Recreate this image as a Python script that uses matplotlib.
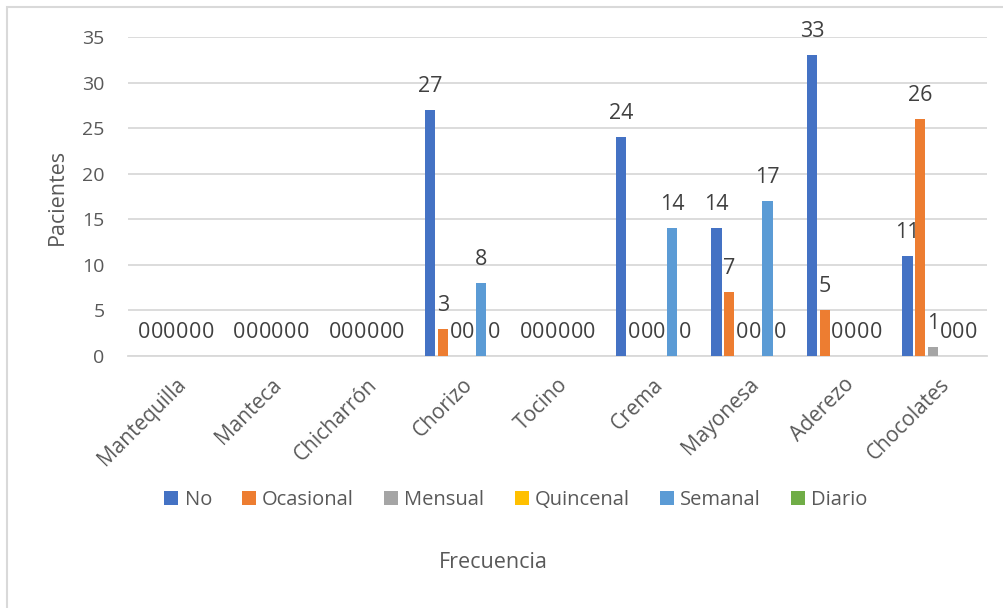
import matplotlib
matplotlib.use("Agg")
import matplotlib.pyplot as plt
from matplotlib.patches import Rectangle
import numpy as np

categories = ["Mantequilla", "Manteca", "Chicharrón", "Chorizo", "Tocino",
              "Crema", "Mayonesa", "Aderezo", "Chocolates"]
series_names = ["No", "Ocasional", "Mensual", "Quincenal", "Semanal", "Diario"]
no_vals        = [0, 0, 0, 27, 0, 24, 14, 33, 11]
ocasional_vals = [0, 0, 0, 3, 0, 0, 7, 5, 26]
mensual_vals   = [0, 0, 0, 0, 0, 0, 0, 0, 1]
quincenal_vals = [0, 0, 0, 0, 0, 0, 0, 0, 0]
semanal_vals   = [0, 0, 0, 8, 0, 14, 17, 0, 0]
diario_vals    = [0, 0, 0, 0, 0, 0, 0, 0, 0]
all_series = [no_vals, ocasional_vals, mensual_vals, quincenal_vals, semanal_vals, diario_vals]
colors = ["#4472C4", "#ED7D31", "#A5A5A5", "#FFC000", "#5B9BD5", "#70AD47"]

plt.rcParams['font.family'] = ['Open Sans', 'DejaVu Sans']

fig = plt.figure(figsize=(10.04, 6.08), dpi=100)
ax = fig.add_axes([128/1004, 1-356/608, (987-128)/1004, (356-37)/608])

# figure border (left and top visible)
fig.patches.append(Rectangle((7/1004, -0.05), 1.2, (608-7)/608 + 0.05,
                             transform=fig.transFigure, fill=False,
                             edgecolor="#D9D9D9", linewidth=1.5))

x = np.arange(len(categories))
step = 0.1336
width = 0.108
for i, (vals, name, c) in enumerate(zip(all_series, series_names, colors)):
    pos = x + (i - 2.5) * step
    ax.bar(pos, vals, width=width, color=c, label=name, zorder=3)
    for px, v in zip(pos, vals):
        ax.annotate(str(v), (px, v), xytext=(0, 13), textcoords="offset points",
                    ha="center", va="baseline", fontsize=15.5, color="#404040", zorder=4)

ax.set_xlim(-0.5, len(categories) - 0.5)
ax.set_ylim(0, 35)
ax.set_yticks(range(0, 36, 5))
ax.grid(axis="y", color="#D9D9D9", linewidth=1.3, zorder=0)
for s in ["top", "right", "left"]:
    ax.spines[s].set_visible(False)
ax.spines["bottom"].set_color("#D9D9D9")
ax.spines["bottom"].set_linewidth(1.3)
ax.tick_params(axis="y", length=0, pad=17, labelsize=14, labelcolor="#595959")
ax.tick_params(axis="x", length=0, pad=13, labelsize=15, labelcolor="#595959")
ax.set_xticks(x)
ax.set_xticklabels(categories, rotation=45, ha="right", rotation_mode="anchor")

fig.text(57/1004, 1-197/608, "Pacientes", rotation=90, ha="center", va="center",
         fontsize=15.5, color="#595959")
fig.text(493/1004, 1-563/608, "Frecuencia", ha="center", va="center",
         fontsize=15.5, color="#595959")

leg = fig.legend(loc="center", bbox_to_anchor=(516/1004, 1-500/608), ncol=6,
                 frameon=False, fontsize=14.5, handlelength=0.7, handleheight=0.7,
                 handletextpad=0.3, columnspacing=1.5)
for t in leg.get_texts():
    t.set_color("#595959")

fig.savefig("out.png", dpi=100)
